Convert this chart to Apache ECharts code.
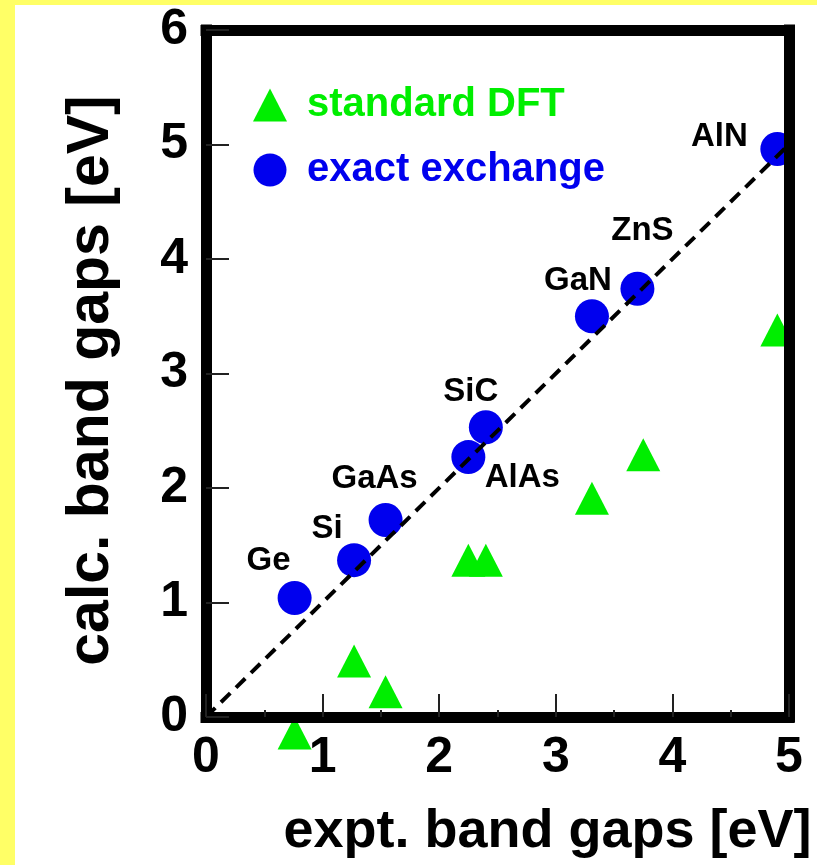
<!DOCTYPE html>
<html>
<head>
<meta charset="utf-8">
<script src="https://cdn.jsdelivr.net/npm/echarts@6/dist/echarts.min.js"></script>
<style>
  html, body { margin: 0; padding: 0; background: #ffff66; }
  #chart { position: absolute; left: 15px; top: 5px; width: 802px; height: 860px; background: #fff; }
</style>
</head>
<body>
<div id="chart"></div>
<script>
// band gaps (eV)
const materials = ['Ge', 'Si', 'GaAs', 'AlAs', 'SiC', 'GaN', 'ZnS', 'AlN'];
const exptGaps = [0.76, 1.27, 1.54, 2.25, 2.40, 3.31, 3.70, 4.90];
const exxGaps = [1.04, 1.37, 1.72, 2.27, 2.53, 3.50, 3.74, 4.96];
const dftExpt = [0.76, 1.27, 1.54, 2.25, 2.40, 3.31, 3.75, 4.90];
const dftGaps = [-0.14, 0.49, 0.22, 1.37, 1.37, 1.91, 2.29, 3.38];
const parityLine = [0, 5];
const xTicks = [0, 1, 2, 3, 4, 5];
const yTicks = [0, 1, 2, 3, 4, 5, 6];

// where each material name sits relative to its circle (px)
const labelOffsets = [[-26, -37], [-27, -31], [-11, -41], [54, 21], [-15, -35], [-14, -35], [5, -58], [-58, -12]];

const FONT = "'Liberation Sans', Arial, sans-serif";
const GREEN = '#00ee00';
const BLUE = '#0000ee';

const chart = echarts.init(document.getElementById('chart'));

const exxData = materials.map(function (m, i) {
  return {
    name: m,
    value: [exptGaps[i], exxGaps[i]],
    label: { offset: labelOffsets[i] }
  };
});
const dftData = dftExpt.map(function (x, i) { return [x, dftGaps[i]]; });
const lineData = parityLine.map(function (v) { return [v, v]; });

const frameLine = { show: true, onZero: false, lineStyle: { color: '#000', width: 11, cap: 'square' } };

const option = {
  animation: false,
  grid: { left: 191, right: 28, top: 17, bottom: 148 },
  legend: {
    orient: 'vertical',
    left: 238,
    top: 80,
    padding: 0,
    itemWidth: 34,
    itemHeight: 33,
    itemGap: 25,
    textStyle: { fontFamily: FONT, fontSize: 40, fontWeight: 'bold', lineHeight: 40, padding: [0, 0, 0, 15] },
    data: [
      { name: 'standard DFT', icon: 'triangle', textStyle: { color: GREEN } },
      { name: 'exact exchange', icon: 'circle', textStyle: { color: BLUE } }
    ]
  },
  xAxis: [{
    type: 'value',
    min: xTicks[0],
    max: xTicks[xTicks.length - 1],
    interval: 1,
    z: 10,
    name: 'expt. band gaps [eV]',
    nameLocation: 'middle',
    nameGap: 88,
    nameTextStyle: { fontFamily: FONT, fontSize: 54, fontWeight: 'bold', color: '#000', padding: [0, 0, 0, 100] },
    axisLine: frameLine,
    axisTick: { show: true, inside: true, length: 23, lineStyle: { color: '#222', width: 2 } },
    minorTick: { show: true, splitNumber: 2, length: 7, lineStyle: { color: '#222', width: 2 } },
    splitLine: { show: false },
    axisLabel: { fontFamily: FONT, fontSize: 50, fontWeight: 'bold', color: '#000', margin: 16 }
  }, {
    type: 'value',
    position: 'top',
    min: xTicks[0],
    max: xTicks[xTicks.length - 1],
    z: 10,
    axisLine: frameLine,
    axisTick: { show: false },
    axisLabel: { show: false },
    splitLine: { show: false }
  }],
  yAxis: [{
    type: 'value',
    min: yTicks[0],
    max: yTicks[yTicks.length - 1],
    interval: 1,
    z: 10,
    name: 'calc. band gaps [eV]',
    nameLocation: 'middle',
    nameGap: 85,
    nameTextStyle: { fontFamily: FONT, fontSize: 59, fontWeight: 'bold', color: '#000', padding: [0, 14, 0, 0] },
    axisLine: frameLine,
    axisTick: { show: true, inside: true, length: 23, lineStyle: { color: '#222', width: 2 } },
    splitLine: { show: false },
    axisLabel: { fontFamily: FONT, fontSize: 50, fontWeight: 'bold', color: '#000', margin: 18 }
  }, {
    type: 'value',
    position: 'right',
    min: yTicks[0],
    max: yTicks[yTicks.length - 1],
    z: 10,
    axisLine: frameLine,
    axisTick: { show: false },
    axisLabel: { show: false },
    splitLine: { show: false }
  }],
  series: [{
    name: 'standard DFT',
    type: 'scatter',
    symbol: 'triangle',
    symbolSize: [34, 33],
    clip: false,
    z: 2,
    itemStyle: { color: GREEN, opacity: 1 },
    data: dftData
  }, {
    name: 'exact exchange',
    type: 'scatter',
    symbol: 'circle',
    symbolSize: 34,
    clip: false,
    z: 2,
    itemStyle: { color: BLUE, opacity: 1 },
    label: {
      show: true,
      position: 'inside',
      formatter: '{b}',
      fontFamily: FONT,
      fontSize: 33,
      fontWeight: 'bold',
      color: '#000'
    },
    data: exxData
  }, {
    type: 'line',
    symbol: 'none',
    z: 3,
    lineStyle: { color: '#000', width: 4, type: [13, 8] },
    data: lineData
  }]
};

chart.setOption(option);
</script>
</body>
</html>
